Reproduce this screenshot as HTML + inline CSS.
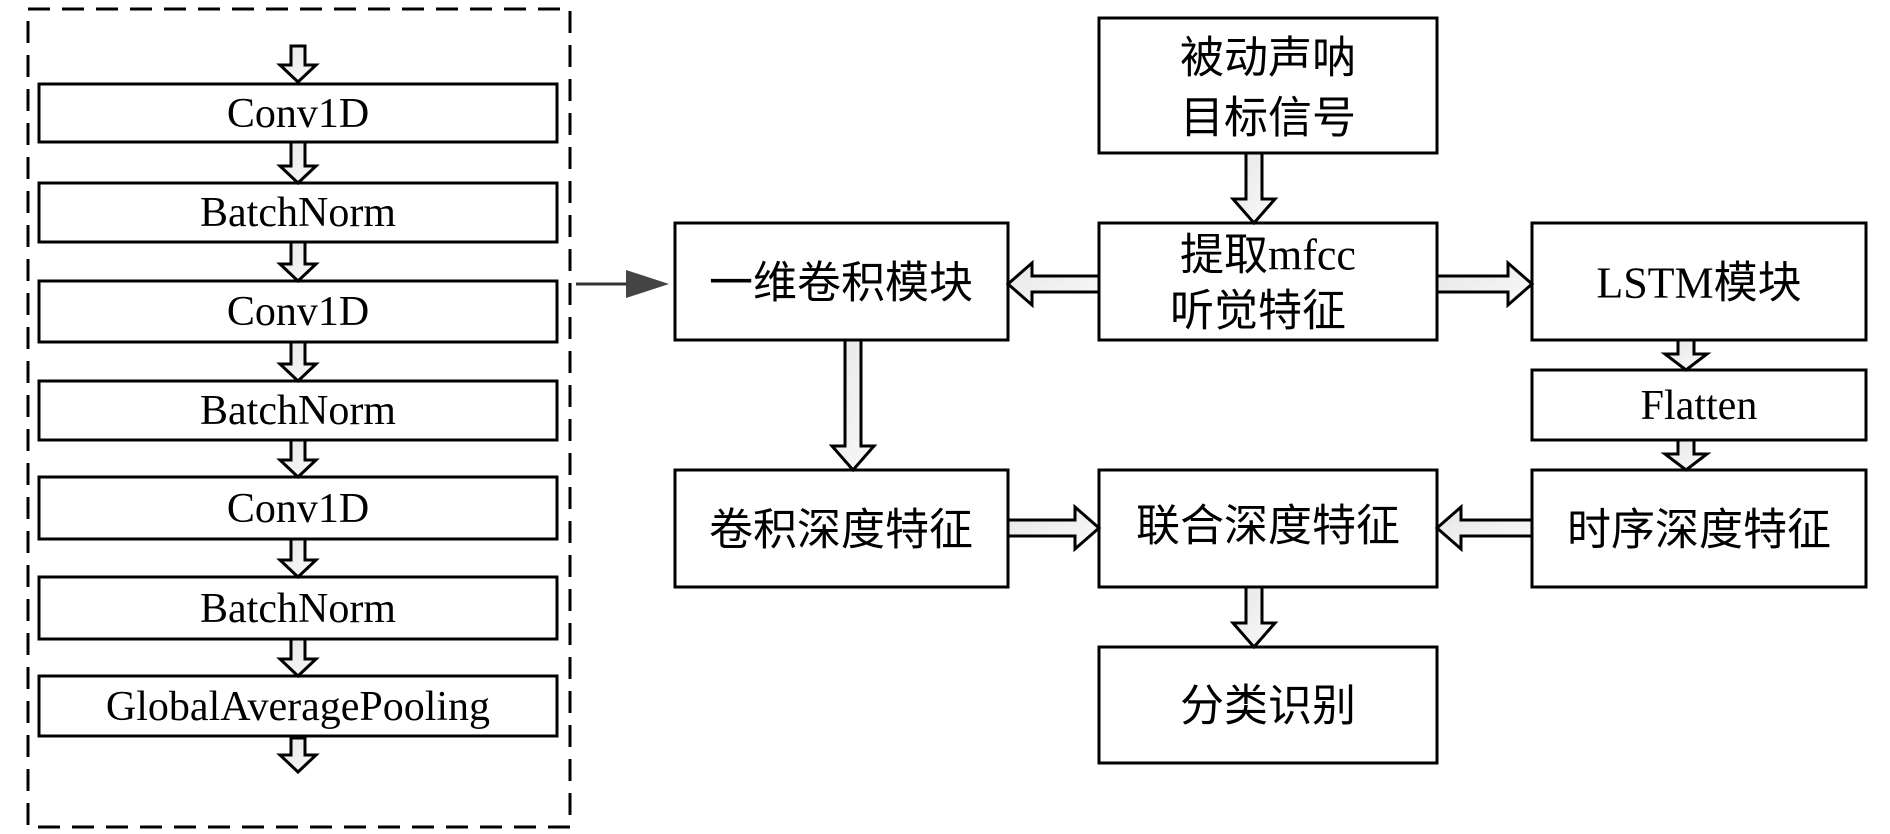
<!DOCTYPE html>
<html><head><meta charset="utf-8"><style>
html,body{margin:0;padding:0;background:#fff;}
svg{display:block;}
.l{font-family:"Liberation Serif",serif;font-size:42px;}
.c{font-family:"Liberation Serif","Noto Sans CJK SC",sans-serif;font-size:44px;}
</style></head><body>
<svg width="1890" height="834" viewBox="0 0 1890 834" xmlns="http://www.w3.org/2000/svg">
<defs>
<linearGradient id="g" x1="0" y1="0" x2="1" y2="1"><stop offset="0" stop-color="#e6e6e6"/><stop offset="1" stop-color="#fafafa"/></linearGradient>
</defs>
<rect x="28" y="9" width="542" height="818" fill="none" stroke="#000" stroke-width="3" stroke-dasharray="22,12"/>
<g fill="#fff" stroke="#000" stroke-width="3">
<rect x="39" y="84" width="518" height="58"/>
<rect x="39" y="183" width="518" height="59"/>
<rect x="39" y="281" width="518" height="61"/>
<rect x="39" y="381" width="518" height="59"/>
<rect x="39" y="477" width="518" height="62"/>
<rect x="39" y="577" width="518" height="62"/>
<rect x="39" y="676" width="518" height="60"/>
<rect x="1099" y="18" width="338" height="135"/>
<rect x="1099" y="223" width="338" height="117"/>
<rect x="675" y="223" width="333" height="117"/>
<rect x="1532" y="223" width="334" height="117"/>
<rect x="1532" y="370" width="334" height="70"/>
<rect x="1532" y="470" width="334" height="117"/>
<rect x="675" y="470" width="333" height="117"/>
<rect x="1099" y="470" width="338" height="117"/>
<rect x="1099" y="647" width="338" height="116"/>
</g>
<g fill="url(#g)" stroke="#000" stroke-width="3" stroke-linejoin="miter">
<polygon points="291,46 305,46 305,65 316,65 298,82 280,65 291,65"/>
<polygon points="291,142 305,142 305,166 316,166 298,183 280,166 291,166"/>
<polygon points="291,242 305,242 305,264 316,264 298,281 280,264 291,264"/>
<polygon points="291,342 305,342 305,364 316,364 298,381 280,364 291,364"/>
<polygon points="291,440 305,440 305,460 316,460 298,477 280,460 291,460"/>
<polygon points="291,539 305,539 305,560 316,560 298,577 280,560 291,560"/>
<polygon points="291,639 305,639 305,659 316,659 298,676 280,659 291,659"/>
<polygon points="291,738 305,738 305,755 316,755 298,772 280,755 291,755"/>
<polygon points="1246,153 1262,153 1262,199 1275,199 1254,223 1233,199 1246,199"/>
<polygon points="1099,276 1099,292 1032,292 1032,305 1008,284 1032,263 1032,276"/>
<polygon points="1437,276 1508,276 1508,263 1532,284 1508,305 1508,292 1437,292"/>
<polygon points="845,340 861,340 861,446 874,446 853,470 832,446 845,446"/>
<polygon points="1678,340 1694,340 1694,354 1707,354 1686,370 1665,354 1678,354"/>
<polygon points="1678,440 1694,440 1694,454 1707,454 1686,470 1665,454 1678,454"/>
<polygon points="1008,520 1075,520 1075,507 1099,528 1075,549 1075,536 1008,536"/>
<polygon points="1532,520 1461,520 1461,507 1437,528 1461,549 1461,536 1532,536"/>
<polygon points="1246,587 1262,587 1262,623 1275,623 1254,647 1233,623 1246,623"/>
</g>
<line x1="576" y1="284" x2="630" y2="284" stroke="#333" stroke-width="3"/>
<polygon points="626,270 669,284 626,298" fill="#444"/>
<g text-anchor="middle" dominant-baseline="central">
<text class="l" x="298" y="114">Conv1D</text>
<text class="l" x="298" y="213">BatchNorm</text>
<text class="l" x="298" y="312">Conv1D</text>
<text class="l" x="298" y="411">BatchNorm</text>
<text class="l" x="298" y="509">Conv1D</text>
<text class="l" x="298" y="609">BatchNorm</text>
<text class="l" x="298" y="707">GlobalAveragePooling</text>
<text class="c" x="1268" y="58">被动声呐</text>
<text class="c" x="1268" y="118">目标信号</text>
<text class="c" x="1268" y="255">提取mfcc</text>
<text class="c" x="1258" y="311">听觉特征</text>
<text class="c" x="841" y="283">一维卷积模块</text>
<text class="c" x="1699" y="283">LSTM模块</text>
<text class="l" x="1699" y="406">Flatten</text>
<text class="c" x="1699" y="530">时序深度特征</text>
<text class="c" x="841" y="530">卷积深度特征</text>
<text class="c" x="1268" y="526">联合深度特征</text>
<text class="c" x="1268" y="706">分类识别</text>
</g>
</svg>
</body></html>
